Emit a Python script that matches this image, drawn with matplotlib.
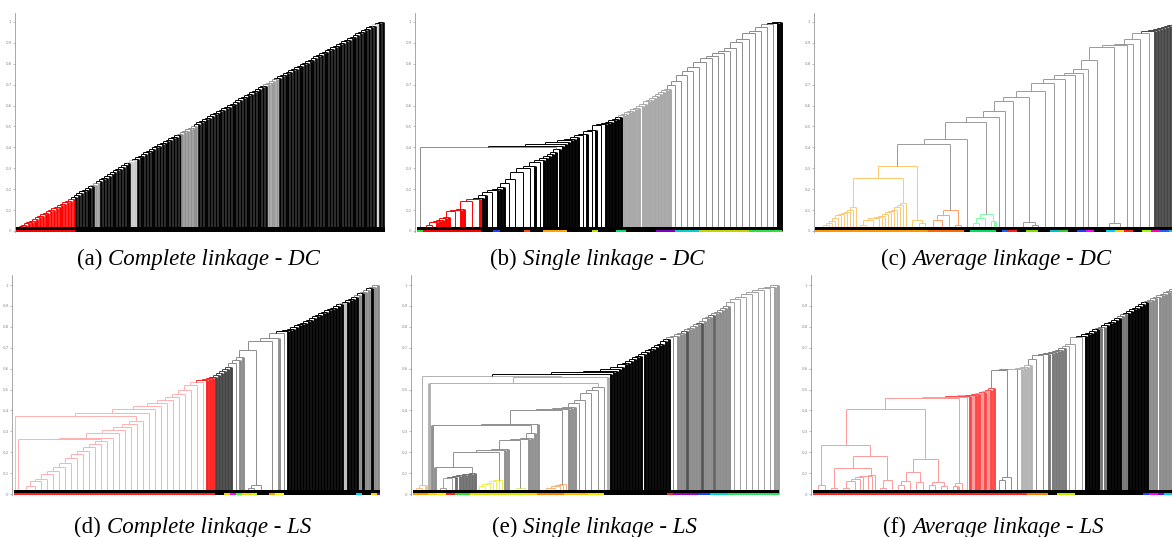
import numpy as np
import matplotlib
matplotlib.use('Agg')
import matplotlib.pyplot as plt
from matplotlib.collections import LineCollection
from matplotlib.patches import Rectangle

W, H = 1172, 537

# ---- (a) complete linkage - DC : merge heights of the staircase
a_red_h = [0.02, 0.025, 0.03, 0.038, 0.045, 0.05, 0.058, 0.065, 0.072, 0.08,
           0.087, 0.095, 0.10, 0.108, 0.115, 0.123, 0.13, 0.138, 0.145, 0.155]
a_black_h = [0.165, 0.172, 0.18, 0.19, 0.198, 0.205, 0.215, 0.222, 0.23, 0.24,
             0.248, 0.255, 0.265, 0.272, 0.28, 0.29, 0.298, 0.305, 0.315, 0.325,
             0.33, 0.34, 0.345, 0.355, 0.36, 0.37, 0.378, 0.385, 0.39, 0.40,
             0.408, 0.415, 0.422, 0.43, 0.437, 0.445, 0.452, 0.46, 0.465, 0.472,
             0.48, 0.488, 0.495, 0.503, 0.51, 0.52, 0.527, 0.535, 0.542, 0.55,
             0.558, 0.565, 0.573, 0.58, 0.588, 0.595, 0.603, 0.61, 0.618, 0.626,
             0.634, 0.641, 0.649, 0.656, 0.664, 0.672, 0.68, 0.687, 0.695, 0.702,
             0.71, 0.717, 0.725, 0.732, 0.74, 0.747, 0.754, 0.762, 0.769, 0.776,
             0.784, 0.791, 0.798, 0.806, 0.813, 0.82, 0.828, 0.835, 0.842, 0.85,
             0.857, 0.864, 0.872, 0.879, 0.886, 0.894, 0.901, 0.908, 0.916, 0.923,
             0.93, 0.938, 0.945, 0.952, 0.96, 0.967, 0.974, 0.982, 0.989, 0.995, 1.0]

# ---- (b) single linkage - DC
b_red_h = [0.03, 0.045, 0.05, 0.055, 0.06, 0.065, 0.095, 0.10, 0.105, 0.145, 0.152]
b_red_k = [2, 1, 1, 1, 1, 1, 3, 1, 1, 4, 1]
b_low_h = [0.16, 0.17, 0.186, 0.195, 0.20, 0.21, 0.23, 0.25, 0.28, 0.30, 0.31, 0.33,
           0.34, 0.35, 0.36, 0.37, 0.38, 0.39]
b_low_k = [1, 1, 3, 1, 1, 1, 2, 2, 3, 2, 1, 2, 1, 1, 1, 1, 1, 1]
b_top_h = 0.40
b_mid_h = [0.405, 0.415, 0.425, 0.435, 0.44, 0.45, 0.46, 0.465, 0.48, 0.485, 0.505,
           0.51, 0.515, 0.52, 0.53, 0.535, 0.545]
b_mid_k = [1, 1, 1, 1, 1, 1, 2, 1, 2, 1, 2, 1, 1, 1, 1, 1, 1]
b_grey_h = [0.555, 0.56, 0.57, 0.575, 0.585, 0.59, 0.60, 0.61, 0.62, 0.625, 0.635,
            0.645, 0.655, 0.665, 0.675, 0.68]
b_box_h = [0.70, 0.72, 0.745, 0.765, 0.785, 0.81, 0.83, 0.838, 0.85, 0.862, 0.874,
           0.905, 0.92, 0.945, 0.958, 0.975, 0.99]
b_end_h = [0.995, 1.0]

# ---- (c) average linkage - DC
c_a1l_h = [0.01, 0.015, 0.02, 0.03, 0.04, 0.05, 0.06, 0.075, 0.08, 0.085, 0.09, 0.10, 0.115]
c_a1r_h = [0.06, 0.065, 0.07, 0.08, 0.09, 0.096, 0.10, 0.115, 0.124, 0.133]
c_a_h = [0.253, 0.31]
c_ab_h = 0.415
c_chain_h = [0.44, 0.52, 0.547, 0.574, 0.624, 0.643, 0.671, 0.71, 0.726, 0.746,
             0.754, 0.774, 0.82, 0.879, 0.89, 0.895, 0.918, 0.946]
c_wall_h = [0.955, 0.96, 0.965, 0.97, 0.975, 0.98, 0.985]

# ---- (d) complete linkage - LS
d_s1_h = [0.02, 0.04, 0.06, 0.07, 0.095, 0.11, 0.13, 0.15, 0.17, 0.19, 0.205, 0.225, 0.24, 0.255]
d_q_h = [0.262, 0.27, 0.29, 0.305, 0.32, 0.335, 0.35]
d_p_h = [0.373, 0.39, 0.405, 0.42, 0.435, 0.45, 0.465, 0.48, 0.50, 0.52, 0.535]
d_red_h = [0.545, 0.55, 0.555]
d_grey_h = [0.56, 0.57, 0.58, 0.59, 0.60, 0.61, 0.625, 0.64, 0.655, 0.69, 0.73, 0.745, 0.77]
d_black_h = [0.78, 0.785, 0.79, 0.80, 0.81, 0.815, 0.82, 0.83, 0.835, 0.84, 0.85,
             0.855, 0.865, 0.87, 0.88, 0.885, 0.89, 0.90, 0.91, 0.915, 0.92, 0.93,
             0.935, 0.945, 0.95, 0.96, 0.965, 0.975, 0.985, 0.99, 1.0]

# ---- (e) single linkage - LS
e_v4_h = [0.03, 0.075, 0.08, 0.085, 0.09, 0.092, 0.095, 0.098, 0.10]
e_y1_h = [0.04, 0.05, 0.055, 0.06, 0.065, 0.067]
e_c_h = [0.131, 0.202, 0.21, 0.215, 0.258, 0.265, 0.27, 0.29]
e_o1_h = [0.02, 0.03, 0.04, 0.045, 0.05]
e_w_h = [0.33, 0.335, 0.40, 0.405, 0.41, 0.415, 0.437, 0.452, 0.483, 0.496, 0.512]
e_top_h = [0.53, 0.558, 0.565]
e_black_h = [0.575, 0.585, 0.59, 0.60, 0.61, 0.62, 0.625, 0.635, 0.645, 0.655, 0.66,
             0.67, 0.68, 0.69, 0.695, 0.705, 0.715, 0.72, 0.73, 0.74]
e_grey_h = [0.755, 0.765, 0.77, 0.78, 0.79, 0.795, 0.805, 0.815, 0.82, 0.83, 0.84,
            0.845, 0.855, 0.865, 0.87, 0.88, 0.89, 0.90]
e_box_h = [0.75, 0.92, 0.935, 0.945, 0.957, 0.965, 0.975, 0.985]
e_end_h = [0.99, 1.0]

# ---- (f) average linkage - LS
f_pink_h = [0.043, 0.123, 0.067, 0.183, 0.234, 0.107, 0.058, 0.168, 0.405, 0.458, 0.052]
f_pa_h = [0.06, 0.07, 0.08, 0.085, 0.088, 0.09]
f_red_h = [0.465, 0.468, 0.472, 0.475, 0.48, 0.485, 0.49, 0.495, 0.50, 0.505]
f_grey_h = [0.593, 0.597, 0.60, 0.605, 0.61, 0.615, 0.645, 0.664, 0.67, 0.675, 0.68,
            0.685, 0.69, 0.70, 0.71, 0.72, 0.752]
f_black_h = [0.755, 0.765, 0.77, 0.78, 0.79, 0.795, 0.80, 0.81, 0.82, 0.825, 0.835,
             0.84, 0.85, 0.86, 0.865, 0.875, 0.885, 0.89, 0.90, 0.91, 0.92]
f_top_h = [0.925, 0.93, 0.94, 0.945, 0.95, 0.955, 0.965, 0.97, 0.98, 0.99, 1.0]


def steps(hs, ks):
    return [h if k == 1 else (h, k) for h, k in zip(hs, ks)]


def striped(hs, base, alt):
    out = []
    for i, h in enumerate(hs):
        out += [alt.get(i, base), h]
    return out


fig = plt.figure(figsize=(W / 100, H / 100), dpi=100)


def dendro(x0, x1, row, tree, band):
    top, bot, hi = (13, 232, 1.043) if row == 0 else (275, 495, 1.048)
    ax = fig.add_axes([x0 / W, 1 - bot / H, (x1 - x0) / W, (bot - top) / H])
    segs, cols, fat = [], [], []
    pos = [0]

    def join(xa, ha, ta, xb, hb, tb, h, c):
        segs.extend([[(xa, ha), (xa, h)], [(xb, hb), (xb, h)], [(xa, h), (xb, h)]])
        cols.extend([c, c, c])
        fat.extend([ta, tb, False])

    def leaves(k):
        x = pos[0] + (k - 1) / 2
        pos[0] += k
        return x, 0.0, k == 1

    def grow(item, c):
        if isinstance(item, int):
            return leaves(item)
        if isinstance(item, tuple):
            h, a, b = item
            xa, ha, ta = grow(a, c)
            xb, hb, tb = grow(b, c)
            join(xa, ha, ta, xb, hb, tb, h, c)
            return (xa + xb) / 2, h, False
        # list = chain, merged left to right
        x, k, thick = None, 1, True
        for s in item:
            if isinstance(s, str):
                if s == '-':
                    thick = False
                elif s == '+':
                    thick = True
                elif s.startswith('*'):
                    k = int(s[1:])
                else:
                    c = s
                continue
            if x is None:
                x, h, t = grow(s, c)
                continue
            if isinstance(s, tuple):
                hh, sub = s
                x2, h2, t2 = grow(sub, c)
            else:
                hh = s
                x2, h2, t2 = leaves(k)
            join(x, h, t and thick, x2, h2, t2 and thick, hh, c)
            x, h, t = (x + x2) / 2, hh, False
        return x, h, t

    grow(tree, 'k')
    n = pos[0]
    ax.set_xlim(-1, n)
    ax.set_ylim(-1 / 209, hi)
    wpt = (x1 - x0) * 0.72
    lw_fat = 0.95 * wpt / (n + 1)
    ax.add_collection(LineCollection(segs, colors=cols, capstyle='butt',
                                     linewidths=[lw_fat if f else 0.7 for f in fat]))
    xs = -0.5
    for cnt, c in band:
        w = min(cnt, n - 0.5 - xs)
        if w <= 0:
            break
        ax.add_patch(Rectangle((xs, -0.005), w, 0.01, color=c, lw=0, zorder=3))
        xs += cnt
    ax.add_patch(Rectangle((-0.5, 0.004), n, 0.016, color='k', lw=0, zorder=3))

    ax.set_xticks([])
    ax.set_yticks(np.arange(11) / 10)
    ax.set_yticklabels(['0'] + ['0,%d' % i for i in range(1, 10)] + ['1'])
    ax.tick_params(axis='y', length=1.5, width=0.4, colors='#8a8a8a', labelsize=2.8, pad=1)
    for sp in ['top', 'right', 'bottom']:
        ax.spines[sp].set_visible(False)
    ax.spines['left'].set_color('#9a9a9a')
    ax.spines['left'].set_linewidth(0.6)
    ax.patch.set_alpha(0)
    return ax


# (a)
grey_a = {7: '#9a9a9a', 8: '#9a9a9a', 20: '#c8c8c8', 21: '#c8c8c8', 69: '#999999',
          70: '#999999', 71: '#999999', 72: '#999999', 108: '#d0d0d0'}
for i in range(38, 44):
    grey_a[i] = '#8f8f8f'
tree_a = ['#ff0000', 1] + a_red_h + striped(a_black_h, 'k', grey_a)
dendro(15, 386, 0, tree_a, [(21, '#ff0000'), (120, 'k')])

# (b)
R_b = ['#ff0000', 2] + steps(b_red_h, b_red_k) + ['k'] + steps(b_low_h, b_low_k)
tree_b = (['#8c8c8c', 2, (b_top_h, R_b), 'k'] + steps(b_mid_h, b_mid_k)
          + ['#a8a8a8'] + b_grey_h + ['#8c8c8c'] + [(h, 2) for h in b_box_h]
          + ['k'] + b_end_h)
band_b = [(2, '#33dd33'), (19, '#ff0000'), (4, 'k'), (2, '#2040ff'), (8, 'k'),
          (2, '#ff5000'), (4, 'k'), (8, '#ffa500'), (8, 'k'), (2, '#c8e000'),
          (6, 'k'), (3, '#00e070'), (10, 'k'), (6, '#8000c0'), (8, '#00d0d0'),
          (16, '#c8d400'), (14, '#30e040')]
dendro(415, 784, 0, tree_b, band_b)

# (c)
A1l = ['-', 1] + c_a1l_h
A1r = ['-', (0.055, (0.03, 2, 2), 3)] + c_a1r_h
A_c = ['#ffc870', (c_a_h[1], (c_a_h[0], A1l, A1r), (0.055, 3, (0.04, 2, 2)))]
B_c = ['#ffa060', (0.10, (0.075, (0.055, 3, 3), 2), (0.03, 2, 2))]
G_c = ['#7dffa8', (0.08, (0.06, (0.04, 2, 2), 2), (0.05, 2, 1))]
c_items = [2, G_c, 2, 2, 3, (0.045, (0.02, 2, 2), (0.03, 2, 2)), 3, 3, 4, 3, 2, 2,
           (0.02, 2, 2), (0.04, (0.02, 2, 2), 3), 2, 2, 3, 3]
tree_c = (['#9a9a9a', (c_ab_h, A_c, B_c)] + list(zip(c_chain_h, c_items))
          + ['#454545'] + c_wall_h)
band_c = [(38, '#ff9900'), (12, '#ff6a00'), (2, 'k'), (9, '#00e060'), (2, 'k'),
          (2, '#2060ff'), (3, '#ff2020'), (3, 'k'), (4, '#80e000'), (4, 'k'),
          (3, '#00c0c0'), (3, '#30d030'), (3, 'k'), (3, '#2040ff'), (3, '#ff00ff'),
          (4, 'k'), (3, '#00d0ff'), (3, '#ffd000'), (3, '#ff2020'), (3, 'k'),
          (3, '#a0ff00'), (3, '#ff00c0'), (3, '#2060ff'), (4, '#00e060'), (3, 'k')]
dendro(814, 1176, 0, tree_c, band_c)

# (d)
S1_d = ['-', '*2', 2] + d_s1_h
Q_d = ['-', '*2', 1, (d_q_h[0], S1_d)] + d_q_h[1:]
d_items = [1, 1, 1, 1, 1, 1, 2, 1, 1, (0.045, (0.03, 2, 2), 3), (0.02, 2, 2), 1, 2]
grey_d = {19: '#c0c0c0', 24: '#8c8c8c', 26: '#8c8c8c', 27: '#8c8c8c', 29: '#8c8c8c',
          30: '#8c8c8c'}
tree_d = (['#ffb0b0', '-', '*2', 1, (d_p_h[0], Q_d)] + d_p_h[1:]
          + ['+', '*1', '#ff2020'] + d_red_h + ['#444444'] + steps(d_grey_h[:6], d_items[:6])
          + ['#8c8c8c'] + steps(d_grey_h[6:], d_items[6:]) + striped(d_black_h, 'k', grey_d))
band_d = [(67, '#ff2020'), (3, 'k'), (2, '#ffd000'), (2, '#ff00ff'), (2, '#40ff40'),
          (3, '#ffd000'), (2, '#c0ff00'), (4, 'k'), (2, '#ff9900'), (3, '#ffff00'),
          (24, 'k'), (2, '#00d0ff'), (3, 'k'), (2, '#ffd000'), (2, '#8000ff'),
          (3, '#00ffa0')]
dendro(12, 381, 1, tree_d, band_d)

# (e)
V4_e = ['#a0a0a0', (e_v4_h[1], (e_v4_h[0], 2, 2), 2), '#707070'] + e_v4_h[2:]
Y1_e = ['#f0f050', '-', (e_y1_h[0], 2, 2)] + e_y1_h[1:]
GY_e = ['#d8f078', (0.03, (0.02, 2, 2), 2)]
C_e = (['#909090', (e_c_h[0], 1, V4_e), (e_c_h[1], Y1_e)] + e_c_h[2:4]
       + [(e_c_h[4], GY_e)] + e_c_h[5:])
O1_e = ['#ffb070', '-', (e_o1_h[1], (e_o1_h[0], 2, 2), 2)] + e_o1_h[2:]
W_e = (['#909090', (e_w_h[0], 1, C_e), e_w_h[1], (e_w_h[2], O1_e)] + e_w_h[3:6]
       + [(h, 2) for h in e_w_h[6:]])
Z_e = ['#b0b0b0', (e_top_h[0], 1, W_e), e_top_h[1]]
tree_e = (['#b0b0b0', ['#ffc080', (0.045, (0.03, 2, 2), 1)], (e_top_h[2], Z_e), 'k']
          + e_black_h + ['#8c8c8c', (e_box_h[0], 2)]
          + striped(e_grey_h, '#8c8c8c', {3: '#555555', 8: '#555555', 12: '#666666'})
          + ['#a0a0a0'] + [(h, 2) for h in e_box_h[1:]] + e_end_h)
band_e = [(5, '#ff9900'), (3, '#ffd000'), (3, '#ffee00'), (3, '#ff2020'), (5, '#30e030'),
          (12, '#e0e000'), (6, '#c8f000'), (4, '#ffd000'), (9, '#ff8000'), (8, '#ffc000'),
          (5, '#ffe000'), (21, 'k'), (2, '#ff2020'), (8, '#a000c0'), (4, '#2040ff'),
          (6, '#00d0d0'), (17, '#30e060')]
dendro(411, 781, 1, tree_e, band_e)

# (f)
ph = f_pink_h
PA_f = (ph[1], (0.03, 2, 2), ['-', (f_pa_h[0], (0.03, 2, 2), 2), f_pa_h[1], f_pa_h[2],
                              (f_pa_h[3], 2), f_pa_h[4], f_pa_h[5]])
PLR_f = (ph[3], PA_f, (ph[2], (0.03, 2, 2), 2))
PLn_f = (ph[4], (ph[0], (0.02, 2, 1), 2), PLR_f)
PR_f = (ph[7], (ph[5], (0.062, (0.045, 2, 2), 2), (ph[6], 2, 2)),
        (0.058, (0.045, 2, 2), (0.04, 2, 2)))
g = f_grey_h
tree_f = (['#ff9a9a', (ph[8], PLn_f, PR_f), (ph[9], (ph[10], (0.04, 2, 1), 2)),
           '-', f_red_h[0], '+']
          + striped(f_red_h[1:], '#ff4848', {1: '#ff9a9a', 4: '#ff9a9a', 6: '#ff9a9a'})
          + ['#8c8c8c', (g[0], (0.083, (0.065, 2, 2), 2)), (g[1], 2), '#b4b4b4'] + g[2:6]
          + ['#8c8c8c', (g[6], 2), (g[7], 3), '#7a7a7a'] + g[8:14]
          + ['#9a9a9a'] + [(h, 2) for h in g[14:]]
          + striped(f_black_h, 'k', {5: '#777777', 6: '#777777', 12: '#777777', 13: '#777777'})
          + ['#8c8c8c'] + f_top_h)
band_f = [(70, '#ff2020'), (7, '#ff8000'), (3, 'k'), (6, '#c0f000'), (22, 'k'),
          (2, '#2040ff'), (3, '#ff00ff'), (2, '#8000ff'), (3, '#00d0ff'), (3, '#00e060'),
          (2, 'k')]
dendro(811, 1184, 1, tree_f, band_f)

# captions
caps = [('(a)', 'Complete linkage - DC', 108, 265),
        ('(b)', 'Single linkage - DC', 523, 265),
        ('(c)', 'Average linkage - DC', 912, 265),
        ('(d)', 'Complete linkage - LS', 107, 533),
        ('(e)', 'Single linkage - LS', 523, 533),
        ('(f)', 'Average linkage - LS', 912, 533)]
for tag, name, x, y in caps:
    fig.text((x - 6) / W, 1 - y / H, tag, ha='right', va='baseline',
             family='Liberation Serif', fontsize=16.5)
    fig.text(x / W, 1 - y / H, name, ha='left', va='baseline',
             family='Liberation Serif', style='italic', fontsize=16.5)

fig.savefig('out.png', dpi=100)
